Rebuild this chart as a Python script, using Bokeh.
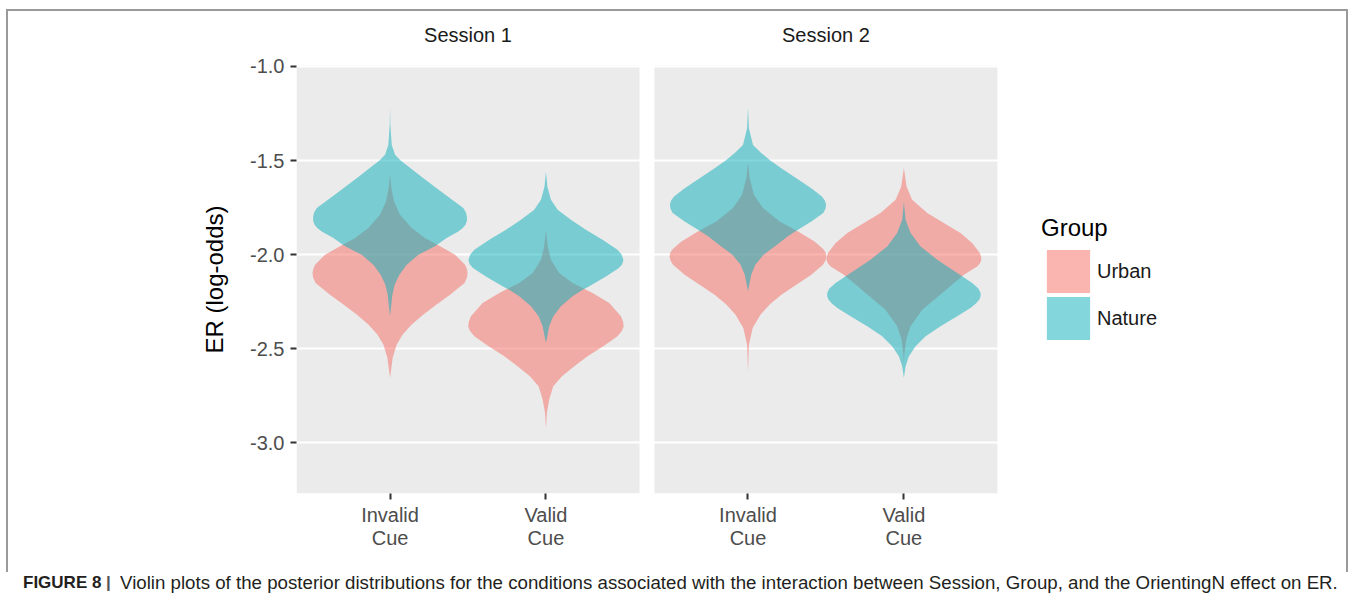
from bokeh.plotting import figure
from bokeh.models import (ColumnDataSource, FixedTicker, PrintfTickFormatter, Legend,
                          LegendItem, BoxAnnotation, Range1d, LinearAxis, Div)
from bokeh.layouts import column
from bokeh.embed import file_html
from bokeh.resources import INLINE

# ---------------- data ----------------
sessions = ["Session 1", "Session 2"]
cues = ["Invalid\nCue", "Valid\nCue"]
groups = ["Urban", "Nature"]
y_ticks = [-3.0, -2.5, -2.0, -1.5, -1.0]

# violin outlines: ER value (log-odds) and half width (in category units)
s1_invalid_urban_y = [-1.576, -1.647, -1.718, -1.788, -1.859, -1.912, -1.956, -2.001, -2.054, -2.076,
                      -2.098, -2.120, -2.151, -2.213, -2.266, -2.319, -2.372, -2.425, -2.478, -2.549,
                      -2.655]
s1_invalid_urban_w = [0.0, 0.009, 0.026, 0.064, 0.139, 0.224, 0.321, 0.417, 0.481, 0.492,
                      0.497, 0.494, 0.478, 0.385, 0.299, 0.214, 0.139, 0.081, 0.043, 0.017,
                      0.0]

s1_invalid_nature_y = [-1.218, -1.311, -1.417, -1.470, -1.500, -1.541, -1.594, -1.647, -1.700, -1.753,
                       -1.775, -1.797, -1.820, -1.841, -1.860, -1.877, -1.912, -1.956, -2.001, -2.054,
                       -2.107, -2.160, -2.213, -2.284, -2.328]
s1_invalid_nature_w = [0.0, 0.002, 0.011, 0.032, 0.068, 0.132, 0.214, 0.299, 0.385, 0.470,
                       0.486, 0.493, 0.493, 0.484, 0.465, 0.438, 0.363, 0.288, 0.182, 0.107,
                       0.060, 0.030, 0.015, 0.006, 0.0]

s1_valid_urban_y = [-1.868, -1.957, -2.027, -2.098, -2.151, -2.204, -2.257, -2.328, -2.355, -2.381,
                    -2.405, -2.434, -2.487, -2.540, -2.593, -2.647, -2.700, -2.770, -2.841, -2.920]
s1_valid_urban_w = [0.0, 0.011, 0.032, 0.085, 0.171, 0.299, 0.406, 0.481, 0.494, 0.499,
                    0.488, 0.459, 0.368, 0.267, 0.182, 0.103, 0.047, 0.021, 0.006, 0.0]

s1_valid_nature_y = [-1.558, -1.638, -1.709, -1.762, -1.815, -1.868, -1.921, -1.974, -2.000, -2.027,
                     -2.050, -2.071, -2.116, -2.169, -2.186, -2.222, -2.275, -2.328, -2.381, -2.434,
                     -2.469]
s1_valid_nature_w = [0.0, 0.009, 0.032, 0.075, 0.160, 0.256, 0.363, 0.459, 0.485, 0.497,
                     0.490, 0.468, 0.385, 0.278, 0.239, 0.171, 0.096, 0.047, 0.021, 0.009,
                     0.0]

s2_invalid_urban_y = [-1.514, -1.594, -1.682, -1.753, -1.824, -1.877, -1.930, -1.974, -1.992, -2.009,
                      -2.030, -2.054, -2.107, -2.160, -2.213, -2.266, -2.319, -2.390, -2.478, -2.620]
s2_invalid_urban_w = [0.0, 0.011, 0.038, 0.096, 0.203, 0.321, 0.427, 0.487, 0.499, 0.503,
                      0.498, 0.481, 0.406, 0.310, 0.214, 0.139, 0.081, 0.030, 0.006, 0.0]

s2_invalid_nature_y = [-1.218, -1.328, -1.417, -1.460, -1.500, -1.541, -1.594, -1.647, -1.691, -1.713,
                       -1.735, -1.757, -1.779, -1.824, -1.868, -1.903, -1.948, -2.001, -2.054, -2.107,
                       -2.160, -2.195]
s2_invalid_nature_w = [0.0, 0.006, 0.032, 0.085, 0.143, 0.214, 0.310, 0.406, 0.474, 0.493,
                       0.501, 0.497, 0.483, 0.406, 0.321, 0.256, 0.186, 0.100, 0.047, 0.021,
                       0.008, 0.0]

s2_valid_urban_y = [-1.540, -1.638, -1.709, -1.779, -1.832, -1.885, -1.938, -1.992, -2.010, -2.027,
                    -2.045, -2.063, -2.107, -2.151, -2.204, -2.293, -2.381, -2.452, -2.522, -2.575]
s2_valid_urban_w = [0.0, 0.017, 0.053, 0.150, 0.256, 0.363, 0.438, 0.487, 0.495, 0.497,
                    0.489, 0.470, 0.385, 0.321, 0.246, 0.118, 0.043, 0.015, 0.004, 0.0]

s2_valid_nature_y = [-1.720, -1.815, -1.885, -1.957, -2.027, -2.098, -2.151, -2.180, -2.204, -2.222,
                     -2.239, -2.260, -2.284, -2.328, -2.381, -2.434, -2.487, -2.540, -2.593, -2.655]
s2_valid_nature_w = [0.0, 0.011, 0.043, 0.107, 0.214, 0.342, 0.438, 0.478, 0.492, 0.492,
                     0.484, 0.462, 0.427, 0.342, 0.235, 0.139, 0.075, 0.032, 0.011, 0.0]

caption_bold = "FIGURE 8"
caption_text = ("Violin plots of the posterior distributions for the conditions associated with the "
                "interaction between Session, Group, and the OrientingN effect on ER.")

violins = {
    ("Session 1", "Invalid\nCue", "Urban"): (s1_invalid_urban_y, s1_invalid_urban_w),
    ("Session 1", "Invalid\nCue", "Nature"): (s1_invalid_nature_y, s1_invalid_nature_w),
    ("Session 1", "Valid\nCue", "Urban"): (s1_valid_urban_y, s1_valid_urban_w),
    ("Session 1", "Valid\nCue", "Nature"): (s1_valid_nature_y, s1_valid_nature_w),
    ("Session 2", "Invalid\nCue", "Urban"): (s2_invalid_urban_y, s2_invalid_urban_w),
    ("Session 2", "Invalid\nCue", "Nature"): (s2_invalid_nature_y, s2_invalid_nature_w),
    ("Session 2", "Valid\nCue", "Urban"): (s2_valid_urban_y, s2_valid_urban_w),
    ("Session 2", "Valid\nCue", "Nature"): (s2_valid_nature_y, s2_valid_nature_w),
}

# ---------------- layout / style ----------------
FONT = "Liberation Sans"
LINE = "#9A9A9A"
CW, CH = 1342, 563                 # canvas size (inside the css frame lines)
FL, FT, FB = 288, 54, 482          # frame left / top / bottom in canvas pixels
PX_PER_X = 155.9                   # pixels per category unit
PANEL = 2.2                        # each facet spans 0.4 .. 2.6
GAP = 0.096                        # white strip between facets
X0 = 0.4
X1 = X0 + (CW - FL) / PX_PER_X
Y0, Y1 = -3.27, -0.995

colors = {"Urban": "#F86B63", "Nature": "#05ADB9"}

p = figure(width=CW, height=CH, output_backend="svg", toolbar_location=None,
           x_range=Range1d(X0, X1), y_range=Range1d(Y0, Y1),
           min_border_left=FL, min_border_right=0,
           min_border_top=FT, min_border_bottom=CH - FB)
p.styles = {"margin-top": "9px", "margin-left": "6px",
            "border-top": "2px solid " + LINE, "border-left": "2px solid " + LINE,
            "border-right": "2px solid " + LINE}
p.background_fill_color = "white"
p.border_fill_color = "white"
p.outline_line_color = None
p.xgrid.grid_line_color = None
p.ygrid.grid_line_color = "white"
p.ygrid.grid_line_width = 2
p.ygrid.ticker = FixedTicker(ticks=y_ticks)

# facet offsets and category centres
panel_off = {s: i * (PANEL + GAP) for i, s in enumerate(sessions)}
centres = {}
for s in sessions:
    for j, c in enumerate(cues):
        centres[(s, c)] = 1 + j + panel_off[s]

# grey facet panels (under the grid)
for s in sessions:
    p.add_layout(BoxAnnotation(left=X0 + panel_off[s], right=X0 + PANEL + panel_off[s],
                               bottom=Y0, top=Y1, fill_color="#EBEBEB", fill_alpha=1,
                               line_color=None, level="image"))

renderers = {g: [] for g in groups}
for g in groups:
    for s in sessions:
        for c in cues:
            ys, ws = violins[(s, c, g)]
            xc = centres[(s, c)]
            src = ColumnDataSource(dict(y=ys, x1=[xc - w for w in ws], x2=[xc + w for w in ws]))
            r = p.harea(y="y", x1="x1", x2="x2", source=src,
                        fill_color=colors[g], fill_alpha=0.5)
            renderers[g].append(r)

# axes
p.xaxis.ticker = FixedTicker(ticks=[centres[(s, c)] for s in sessions for c in cues])
p.xaxis.major_label_overrides = {centres[(s, c)]: c for s in sessions for c in cues}
p.yaxis.ticker = FixedTicker(ticks=y_ticks)
p.yaxis.formatter = PrintfTickFormatter(format="%.1f")
for ax in (p.xaxis[0], p.yaxis[0]):
    ax.axis_line_color = None
    ax.major_tick_in = 0
    ax.major_tick_out = 6
    ax.major_tick_line_color = "#333333"
    ax.major_tick_line_width = 2
    ax.minor_tick_line_color = None
    ax.major_label_text_font = FONT
    ax.major_label_text_font_size = "20px"
    ax.major_label_text_color = "#4D4D4D"
p.xaxis.major_label_text_line_height = 1.05
p.yaxis.major_label_standoff = 6
p.xaxis.major_label_standoff = 4
p.yaxis.axis_label = "ER (log-odds)"
p.yaxis.axis_label_text_font = FONT
p.yaxis.axis_label_text_font_size = "24px"
p.yaxis.axis_label_text_font_style = "normal"
p.yaxis.axis_label_text_color = "black"
p.yaxis.axis_label_standoff = 19

# facet strip titles as a top axis
strip = LinearAxis(ticker=FixedTicker(ticks=[1.5 + panel_off[s] for s in sessions]),
                   major_label_overrides={1.5 + panel_off[s]: s for s in sessions})
strip.axis_line_color = None
strip.major_tick_line_color = None
strip.minor_tick_line_color = None
strip.major_tick_in = 0
strip.major_tick_out = 0
strip.major_label_standoff = 20
strip.major_label_text_font = FONT
strip.major_label_text_font_size = "20px"
strip.major_label_text_color = "#1A1A1A"
p.add_layout(strip, "above")

# legend (two blocks so the keys can sit close together)
def style_legend(lg):
    lg.label_text_font = FONT
    lg.label_text_font_size = "20px"
    lg.label_text_color = "#1A1A1A"
    lg.glyph_width = 54
    lg.glyph_height = 54
    lg.label_standoff = 2
    lg.padding = 0
    lg.margin = 0
    lg.spacing = 0
    lg.background_fill_alpha = 0
    lg.border_line_alpha = 0

leg1 = Legend(items=[LegendItem(label=groups[0], renderers=[renderers[groups[0]][0]])],
              title="Group", location=(745, 195))
leg1.title_text_font = FONT
leg1.title_text_font_size = "24px"
leg1.title_text_font_style = "normal"
leg1.title_text_color = "black"
leg1.title_standoff = 2
style_legend(leg1)
leg2 = Legend(items=[LegendItem(label=groups[1], renderers=[renderers[groups[1]][0]])],
              location=(745, 148))
style_legend(leg2)
p.add_layout(leg1)
p.add_layout(leg2)

caption = Div(text=('<div style="position:relative;height:32px;font-family:\'Liberation Sans\';'
                    'color:#231F20;white-space:nowrap;">'
                    '<span style="position:absolute;left:18px;top:-6px;font-size:17px;font-weight:bold;">'
                    + caption_bold + '</span>'
                    '<span style="position:absolute;left:101px;top:-6px;font-size:17px;font-weight:bold;'
                    'color:#555555;">|</span>'
                    '<span style="position:absolute;left:115px;top:-7px;font-size:18.7px;">'
                    + caption_text + '</span></div>'),
              width=1350, height=32)

root = column(p, caption, spacing=0)
open("out.html", "w").write(file_html(root, INLINE))
